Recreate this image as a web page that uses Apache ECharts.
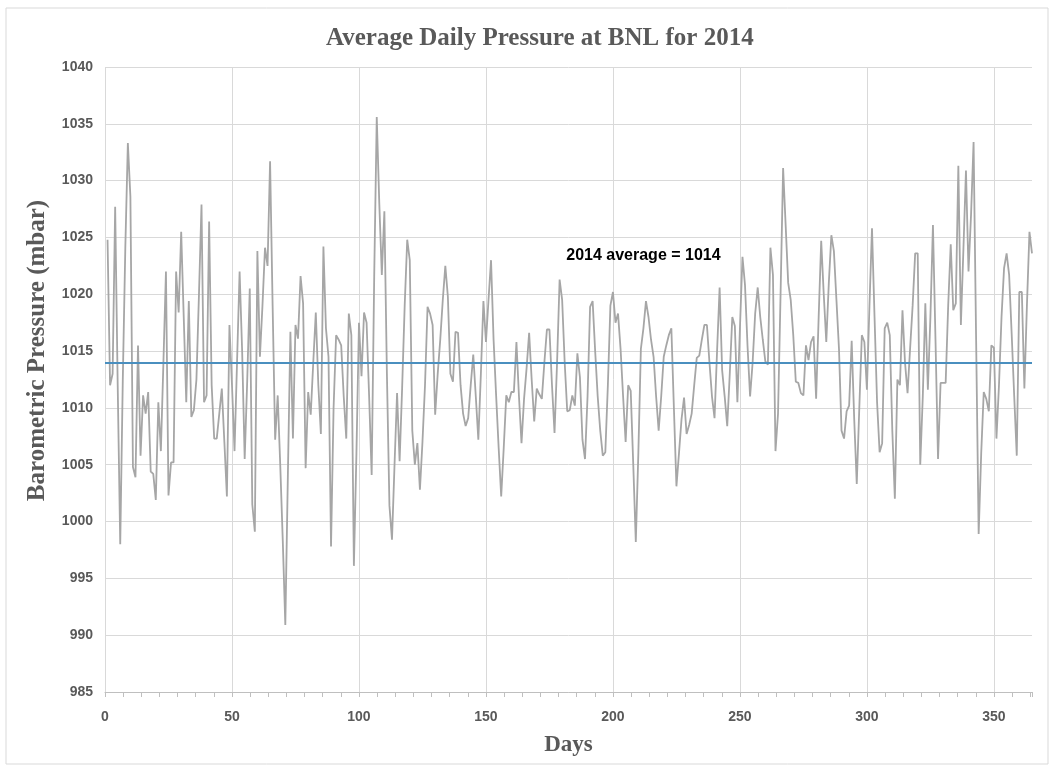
<!DOCTYPE html>
<html>
<head>
<meta charset="utf-8">
<script src="https://cdn.jsdelivr.net/npm/echarts@6/dist/echarts.min.js"></script>
<style>html,body{margin:0;padding:0;background:#fff;}#c{width:1054px;height:771px;}</style>
</head>
<body>
<div id="c"></div>
<script>
const titleText = 'Average Daily Pressure at BNL for 2014';
const xName = 'Days';
const yName = 'Barometric Pressure (mbar)';
const averageValue = 1014;
const averageLabel = '2014 average = 1014';
const labelPos = [212, 1023.4];
// daily pressure, days 1..365 (mbar)
const pressure = [
1024.8,1012.0,1013.0,1027.7,1012.0,998.0,1012.4,1024.1,1033.3,1028.6,
1004.8,1003.9,1015.5,1005.8,1011.1,1009.5,1011.4,1004.4,1004.2,1001.9,
1010.5,1006.2,1014.0,1022.0,1002.3,1005.2,1005.2,1022.0,1018.4,1025.5,
1018.0,1010.5,1019.4,1009.2,1009.8,1012.5,1020.0,1027.9,1010.5,1011.1,
1026.4,1012.0,1007.3,1007.3,1009.5,1011.7,1007.0,1002.2,1017.3,1012.0,
1006.2,1014.1,1022.0,1015.0,1005.5,1012.4,1020.5,1001.5,999.1,1023.8,
1014.5,1019.0,1024.1,1022.5,1031.7,1019.0,1007.2,1011.1,1005.0,998.3,
990.9,1004.0,1016.7,1007.3,1017.3,1016.1,1021.6,1019.2,1004.7,1011.4,
1009.4,1014.0,1018.4,1012.0,1007.7,1024.2,1017.0,1014.5,997.8,1010.0,
1016.4,1016.0,1015.5,1011.0,1007.3,1018.3,1016.4,996.1,1006.0,1017.5,
1012.8,1018.4,1017.5,1011.0,1004.1,1021.6,1035.6,1028.0,1021.7,1027.3,
1013.0,1001.4,998.4,1005.0,1011.3,1005.3,1011.8,1019.0,1024.8,1023.0,
1008.0,1005.0,1006.9,1002.8,1007.0,1012.0,1018.9,1018.3,1017.3,1009.4,
1013.0,1016.0,1019.5,1022.5,1019.8,1013.0,1012.3,1016.7,1016.6,1012.0,
1009.5,1008.4,1009.1,1012.0,1014.7,1011.0,1007.2,1013.0,1019.4,1015.8,
1019.5,1023.0,1016.0,1011.1,1006.5,1002.2,1006.5,1011.1,1010.5,1011.4,
1011.4,1015.8,1011.0,1006.9,1010.8,1013.5,1016.6,1012.5,1008.8,1011.7,
1011.2,1010.8,1014.0,1016.9,1016.9,1012.0,1007.8,1014.0,1021.3,1019.5,
1014.0,1009.7,1009.8,1011.1,1010.2,1014.8,1012.7,1007.2,1005.5,1011.0,
1018.9,1019.4,1015.0,1011.0,1008.0,1005.8,1006.1,1012.0,1019.0,1020.2,
1017.5,1018.3,1015.2,1011.0,1007.0,1012.0,1011.5,1005.0,998.2,1006.0,
1015.2,1017.0,1019.4,1018.0,1016.0,1014.5,1011.0,1008.0,1011.0,1014.5,
1015.5,1016.4,1017.0,1010.0,1003.1,1006.0,1009.0,1010.9,1007.7,1008.5,
1009.5,1012.0,1014.4,1014.6,1016.0,1017.3,1017.3,1014.0,1011.0,1009.1,
1015.0,1020.6,1013.3,1011.0,1008.4,1013.0,1018.0,1017.2,1010.5,1017.0,
1023.3,1020.8,1015.4,1011.0,1014.0,1018.3,1020.6,1018.0,1016.0,1014.1,
1013.8,1024.1,1021.7,1006.2,1009.5,1020.0,1031.1,1026.1,1021.0,1019.5,
1016.4,1012.3,1012.2,1011.3,1011.1,1015.5,1014.2,1015.8,1016.3,1010.8,
1018.0,1024.7,1020.0,1015.8,1021.0,1025.2,1023.8,1019.5,1015.2,1008.0,
1007.3,1009.7,1010.2,1015.9,1009.0,1003.3,1010.0,1016.4,1015.8,1011.6,
1019.0,1025.8,1018.0,1010.5,1006.1,1006.9,1017.0,1017.5,1016.4,1008.0,
1002.0,1012.5,1012.0,1018.6,1014.0,1011.3,1015.2,1019.0,1023.6,1023.6,
1005.0,1011.0,1019.2,1011.6,1018.0,1026.1,1016.0,1005.5,1012.2,1012.2,
1012.2,1019.0,1024.4,1018.6,1019.2,1031.3,1017.3,1024.0,1030.9,1022.0,
1027.0,1033.4,1016.0,998.9,1006.0,1011.4,1010.8,1009.7,1015.5,1015.3,
1007.3,1012.0,1018.0,1022.3,1023.6,1021.7,1016.5,1011.0,1005.8,1020.2,
1020.2,1011.7,1019.0,1025.5,1023.6
];
const xMin = 0, xMax = 365, xStep = 50;
const yMin = 985, yMax = 1040, yStep = 5;

const seriesData = pressure.map((v, i) => [i + 1, v]);
const chart = echarts.init(document.getElementById('c'), null, {renderer: 'canvas'});
const gridColor = '#d9d9d9';
const labelFont = "'Liberation Sans',sans-serif";
chart.setOption({
  animation: false,
  backgroundColor: '#ffffff',
  title: {
    text: titleText, left: 321, top: 21,
    textStyle: {fontFamily: "'Liberation Serif',serif", fontWeight: 'bold', fontSize: 25, color: '#595959'}
  },
  graphic: [{
    type: 'rect', shape: {x: 6, y: 8, width: 1042, height: 756},
    style: {fill: 'none', stroke: '#d9d9d9', lineWidth: 1}, silent: true, z: -1
  }],
  grid: {left: 105, right: 22, top: 67, bottom: 79, containLabel: false},
  xAxis: {
    type: 'value', min: xMin, max: xMax, interval: xStep,
    name: xName, nameLocation: 'middle', nameGap: 42,
    nameTextStyle: {fontFamily: "'Liberation Serif',serif", fontWeight: 'bold', fontSize: 23, color: '#595959'},
    axisLine: {show: true, lineStyle: {color: '#bfbfbf', width: 1}},
    axisTick: {show: true, length: 5, lineStyle: {color: '#bfbfbf'}},
    minorTick: {show: true, splitNumber: 7, length: 5, lineStyle: {color: '#bfbfbf'}},
    axisLabel: {showMaxLabel: false, margin: 18, fontFamily: labelFont, fontWeight: 'bold', fontSize: 14, color: '#595959'},
    splitLine: {show: true, showMaxLine: false, lineStyle: {color: gridColor, width: 1}}
  },
  yAxis: {
    type: 'value', min: yMin, max: yMax, interval: yStep,
    name: yName, nameLocation: 'middle', nameGap: 55, nameRotate: 90,
    nameTextStyle: {fontFamily: "'Liberation Serif',serif", fontWeight: 'bold', fontSize: 25, color: '#595959', padding: [0, 0, 0, 58]},
    axisLine: {show: false},
    axisTick: {show: false},
    axisLabel: {margin: 12, fontFamily: labelFont, fontWeight: 'bold', fontSize: 14, color: '#595959', formatter: v => String(v)},
    splitLine: {show: true, lineStyle: {color: gridColor, width: 1}}
  },
  series: [{
    type: 'line', data: seriesData, showSymbol: false, symbol: 'none',
    lineStyle: {color: '#a6a6a6', width: 1.8}, z: 2,
    markLine: {
      silent: true, symbol: 'none', label: {show: false},
      lineStyle: {color: '#4a8fbf', width: 2, type: 'solid'},
      data: [{yAxis: averageValue}]
    },
    markPoint: {
      silent: true, symbol: 'circle', symbolSize: 0,
      label: {show: true, formatter: averageLabel, fontFamily: "'Liberation Sans',sans-serif", fontWeight: 'bold', fontSize: 16, color: '#000000'},
      data: [{coord: labelPos}]
    }
  }]
});
</script>
</body>
</html>
